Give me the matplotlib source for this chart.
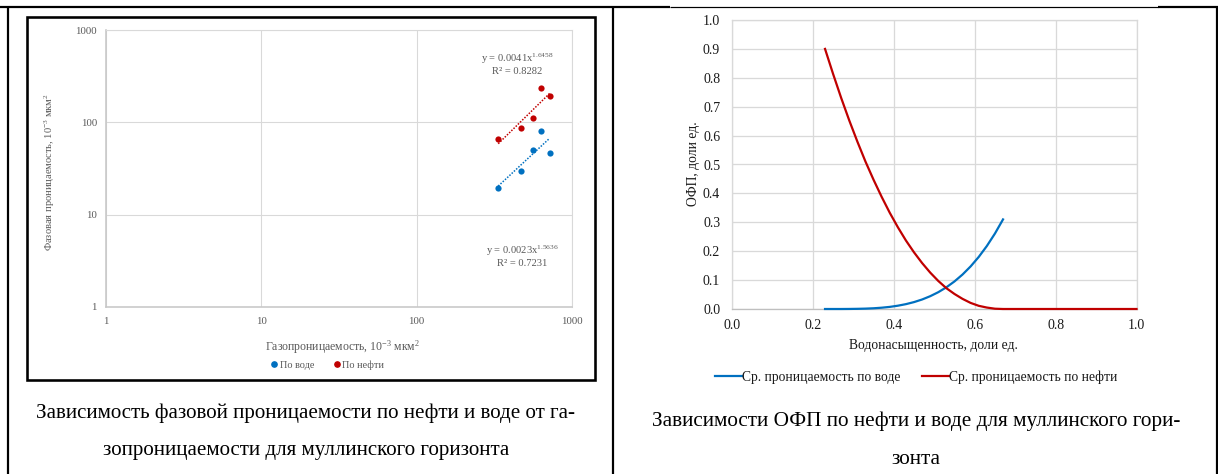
import matplotlib
matplotlib.use("Agg")
import matplotlib.pyplot as plt
from matplotlib.lines import Line2D
from matplotlib.patches import Rectangle
from matplotlib.ticker import FixedLocator, FixedFormatter, NullLocator
import numpy as np

plt.rcParams['font.family'] = ['Liberation Serif', 'DejaVu Serif']
plt.rcParams['mathtext.fontset'] = 'custom'
plt.rcParams['mathtext.rm'] = 'Liberation Serif'
plt.rcParams['mathtext.it'] = 'Liberation Serif:italic'
plt.rcParams['mathtext.bf'] = 'Liberation Serif:bold'

# ---- Left chart: phase permeability vs gas permeability ----
gas_perm_water = [335, 469, 557, 634, 718]
phase_perm_water = [19.3, 29.7, 50.4, 81.2, 46.2]
gas_perm_oil = [335, 469, 557, 634, 718]
phase_perm_oil = [66.5, 86.0, 111.0, 235.0, 193.0]

# power-law trends y = a * x^b
trend_water = (0.0023, 1.5636, 0.7231)
trend_oil = (0.0041, 1.6458, 0.8282)

log_ticks = [1, 10, 100, 1000]
log_tick_labels = ["1", "10", "100", "1000"]

# ---- Right chart: relative permeability curves ----
sw_water = [0.23, 0.25, 0.27, 0.29, 0.31, 0.33, 0.35, 0.37, 0.39, 0.41, 0.43,
            0.45, 0.47, 0.49, 0.51, 0.53, 0.55, 0.57, 0.59, 0.61, 0.63, 0.65, 0.67]
kr_water = [0.0, 0.0, 0.0, 0.0002, 0.0006, 0.0013, 0.0025, 0.0045, 0.0073, 0.0114,
            0.0168, 0.0239, 0.0329, 0.0443, 0.0582, 0.0751, 0.0954, 0.1194, 0.1475,
            0.1802, 0.2179, 0.2610, 0.310]
sw_oil = [0.23, 0.25, 0.27, 0.29, 0.31, 0.33, 0.35, 0.37, 0.39, 0.41, 0.43,
          0.45, 0.47, 0.49, 0.51, 0.53, 0.55, 0.57, 0.59, 0.61, 0.63, 0.65, 0.67,
          0.70, 0.80, 0.90, 1.00]
kr_oil = [0.900, 0.813, 0.730, 0.652, 0.579, 0.510, 0.447, 0.388, 0.333, 0.283,
          0.237, 0.196, 0.159, 0.126, 0.097, 0.072, 0.052, 0.035, 0.021, 0.011,
          0.005, 0.001, 0.0, 0.0, 0.0, 0.0, 0.0]

lin_xticks = [0.0, 0.2, 0.4, 0.6, 0.8, 1.0]
lin_yticks = [0.0, 0.1, 0.2, 0.3, 0.4, 0.5, 0.6, 0.7, 0.8, 0.9, 1.0]

BLUE = "#0070C0"
RED = "#C00000"
GRID = "#D9D9D9"
GRAY_TXT = "#595959"
DARK_TXT = "#1a1a1a"

W, H = 1218, 474
DPI = 100
PX = 72.0 / DPI  # points per pixel

fig = plt.figure(figsize=(W / DPI, H / DPI), dpi=DPI)
fig.patch.set_facecolor("white")

# background layer in pixel coordinates for the table frame and captions
bg = fig.add_axes([0, 0, 1, 1], zorder=-1)
bg.set_xlim(0, W)
bg.set_ylim(H, 0)
bg.axis("off")

def hline(x0, x1, y, w):
    bg.plot([x0, x1], [y, y], color="black", lw=w * PX, solid_capstyle="butt")

def vline(x, y0, y1, w):
    bg.plot([x, x], [y0, y1], color="black", lw=w * PX, solid_capstyle="butt")

hline(0, 670, 7, 2.2)
hline(670, 1158, 6.5, 1.2)
hline(1158, W, 7, 2.2)
vline(8, 6, H, 2.2)
vline(613, 6, H, 2.2)
vline(1216.5, 6, H, 2.2)
bg.add_patch(Rectangle((27, 17), 568, 363, fill=False, ec="black", lw=2.6 * PX))

def px_axes(x0, y0, x1, y1):
    return fig.add_axes([x0 / W, (H - y1) / H, (x1 - x0) / W, (y1 - y0) / H])

# ---------------- left chart ----------------
axL = px_axes(106, 30, 572, 307)
axL.set_xscale("log")
axL.set_yscale("log")
axL.set_xlim(1, 1000)
axL.set_ylim(1, 1000)
for axis in (axL.xaxis, axL.yaxis):
    axis.set_major_locator(FixedLocator(log_ticks))
    axis.set_major_formatter(FixedFormatter(log_tick_labels))
    axis.set_minor_locator(NullLocator())
axL.tick_params(length=0, labelsize=7.8, labelcolor=GRAY_TXT)
axL.tick_params(axis="y", pad=6.5)
axL.tick_params(axis="x", pad=7)
axL.grid(True, color=GRID, lw=1.1 * PX)
for s in axL.spines.values():
    s.set_color(GRID)
    s.set_linewidth(1.1 * PX)
axL.spines["left"].set_color("#C8C8C8")
axL.spines["bottom"].set_color("#C8C8C8")
axL.spines["left"].set_linewidth(1.6 * PX)
axL.spines["bottom"].set_linewidth(1.6 * PX)
axL.set_axisbelow(True)

axL.scatter(gas_perm_water, phase_perm_water, s=20, color=BLUE, zorder=3, lw=0)
axL.scatter(gas_perm_oil, phase_perm_oil, s=20, color=RED, zorder=3, lw=0)

for xs, (a, b, _), col in ((gas_perm_water, trend_water, BLUE),
                           (gas_perm_oil, trend_oil, RED)):
    xt = np.geomspace(min(xs), max(xs), 40)
    axL.plot(xt, a * xt ** b, color=col, lw=1.1, ls=(0, (1, 1)), zorder=2)

def eq_text(ax, xf, yf, trend):
    a, b, r2 = trend
    ax.text(xf, yf, f"y = {a:.4f}x$^{{{b:.4f}}}$", transform=ax.transAxes,
            ha="center", va="center", fontsize=7.6, color=GRAY_TXT)
    ax.text(xf, yf - 0.047, f"R² = {r2:.4f}", transform=ax.transAxes,
            ha="center", va="center", fontsize=7.6, color=GRAY_TXT)

eq_text(axL, 0.882, 0.897, trend_oil)
eq_text(axL, 0.893, 0.203, trend_water)

bg.text(50, 172, "Фазовая проницаемость, 10$^{-3}$ мкм$^{2}$", rotation=90,
        ha="center", va="center", fontsize=7.6, color=GRAY_TXT)
bg.text(342, 347, "Газопроницаемость, 10$^{-3}$ мкм$^{2}$",
        ha="center", va="center", fontsize=8.5, color=GRAY_TXT)

left_handles = [
    Line2D([], [], marker="o", ls="none", color=BLUE, markersize=3.8, label="По воде"),
    Line2D([], [], marker="o", ls="none", color=RED, markersize=3.8, label="По нефти"),
]
fig.legend(handles=left_handles, loc="center", bbox_to_anchor=(328 / W, 1 - 365 / H),
           ncol=2, frameon=False, fontsize=7.4, labelcolor=GRAY_TXT,
           handlelength=0.5, handletextpad=0.25, columnspacing=2.0,
           borderpad=0, borderaxespad=0)

bg.text(306, 413, "Зависимость фазовой проницаемости по нефти и воде от га-",
        ha="center", va="center", fontsize=15.1, color="black")
bg.text(306, 451, "зопроницаемости для муллинского горизонта",
        ha="center", va="center", fontsize=15.1, color="black")

# ---------------- right chart ----------------
axR = px_axes(732, 20, 1136.5, 309)
axR.set_xlim(0, 1)
axR.set_ylim(0, 1)
axR.xaxis.set_major_locator(FixedLocator(lin_xticks))
axR.yaxis.set_major_locator(FixedLocator(lin_yticks))
axR.xaxis.set_major_formatter(FixedFormatter([f"{v:.1f}" for v in lin_xticks]))
axR.yaxis.set_major_formatter(FixedFormatter([f"{v:.1f}" for v in lin_yticks]))
axR.tick_params(length=0, labelsize=10, labelcolor=DARK_TXT)
axR.tick_params(axis="y", pad=8.5)
axR.tick_params(axis="x", pad=7.5)
axR.grid(True, color=GRID, lw=1.3 * PX)
for s in axR.spines.values():
    s.set_color(GRID)
    s.set_linewidth(1.3 * PX)
axR.spines["bottom"].set_color("#BFBFBF")
axR.set_axisbelow(True)

axR.plot(sw_water, kr_water, color=BLUE, lw=1.6, label="Ср. проницаемость по воде",
         clip_on=False, zorder=3)
axR.plot(sw_oil, kr_oil, color=RED, lw=1.6, label="Ср. проницаемость по нефти",
         clip_on=False, zorder=3)

bg.text(693, 164, "ОФП, доли ед.", rotation=90, ha="center", va="center",
        fontsize=9.8, color=DARK_TXT)
bg.text(933, 345, "Водонасыщенность, доли ед.", ha="center", va="center",
        fontsize=9.8, color=DARK_TXT)

fig.legend(handles=axR.get_lines(), loc="center", bbox_to_anchor=(916 / W, 1 - 377 / H),
           ncol=2, frameon=False, fontsize=9.8, labelcolor=DARK_TXT,
           handlelength=2.0, handletextpad=0.0, columnspacing=1.6,
           borderpad=0, borderaxespad=0)

bg.text(916, 421, "Зависимости ОФП по нефти и воде для муллинского гори-",
        ha="center", va="center", fontsize=15.3, color="black")
bg.text(916, 459, "зонта", ha="center", va="center", fontsize=15.3, color="black")

fig.savefig("out.png", dpi=DPI)
